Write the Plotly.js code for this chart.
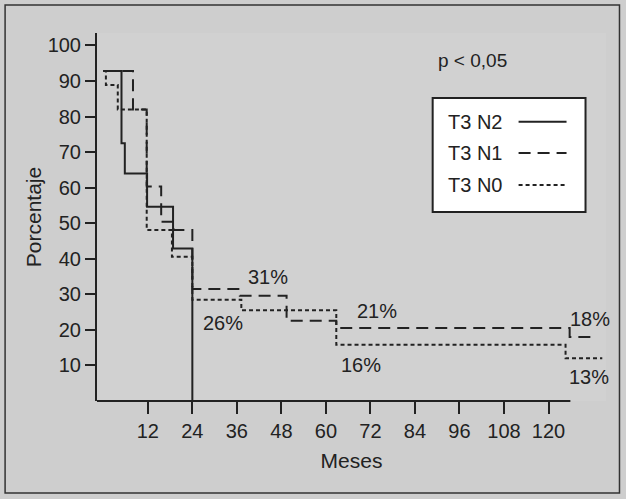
<!DOCTYPE html>
<html>
<head>
<meta charset="utf-8">
<script src="https://cdn.plot.ly/plotly-3.0.1.min.js"></script>
<style>
  html, body { margin: 0; padding: 0; background: #cecece; }
  #chart { width: 626px; height: 499px; }
</style>
</head>
<body>
<div id="chart"></div>
<script>
// Kaplan-Meier style survival curves (months, percent)
const seriesNames = ["T3 N2", "T3 N1", "T3 N0"];

const n2Months = [0, 4.9, 5.8, 11.8, 18.8, 24];
const n2Pct    = [92.8, 72.5, 64, 54.6, 42.9, 0];

const n1Months = [0, 8, 11.7, 15.6, 19, 24, 36.8, 49.4, 62.8, 125.7, 133];
const n1Pct    = [92.8, 82, 60.3, 50.4, 48.1, 31.5, 29.6, 22.6, 20.5, 18, 18];

const n0Months = [0, 0.7, 3.9, 11.7, 18.5, 24, 37.2, 62.8, 124.6, 134.5];
const n0Pct    = [92.8, 88.9, 82, 48.1, 40.6, 28.5, 25.5, 15.8, 12, 12];

const xTicks = [12, 24, 36, 48, 60, 72, 84, 96, 108, 120];
const yTicks = [10, 20, 30, 40, 50, 60, 70, 80, 90, 100];

const pctLabels = ["31%", "26%", "21%", "16%", "18%", "13%"];
const pctLabelX = [44.3, 32.2, 73.7, 69.4, 131.3, 131.0];
const pctLabelY = [34.9, 21.9, 25.3, 10.1, 23.1, 6.7];

const ink = "#222222";
const fontFam = "Liberation Sans, Arial, Helvetica, sans-serif";
const dashN1 = "12px,7px";
const dashN0 = "4px,3px";

const traces = [
  {x: n2Months, y: n2Pct, name: seriesNames[0], mode: "lines",
   line: {shape: "hv", color: ink, width: 2}},
  {x: n1Months, y: n1Pct, name: seriesNames[1], mode: "lines",
   line: {shape: "hv", color: ink, width: 2, dash: dashN1}},
  {x: n0Months, y: n0Pct, name: seriesNames[2], mode: "lines",
   line: {shape: "hv", color: ink, width: 2, dash: dashN0}}
];

// plot area in pixels: left 97, right 606.5, top 33, bottom 401
const L = 97, R = 606.5, T = 33, B = 401;
const px = p => (p - L) / (R - L);
const py = q => (B - q) / (B - T);

const annotations = pctLabels.map((t, i) => ({
  x: pctLabelX[i], y: pctLabelY[i], xref: "x", yref: "y",
  text: t, showarrow: false, font: {size: 20, color: ink, family: fontFam}
}));
annotations.push({x: 99.5, y: 95.9, xref: "x", yref: "y", text: "p &lt; 0,05",
  showarrow: false, font: {size: 19, color: ink, family: fontFam}});

const legRows = [121.7, 153, 185];
const legDash = ["solid", dashN1, dashN0];
const shapes = [
  // outer frame
  {type: "rect", xref: "paper", yref: "paper", x0: px(5), x1: px(620), y0: py(493), y1: py(5),
   line: {color: "#333", width: 1.5}, fillcolor: "rgba(0,0,0,0)", layer: "below"},
  // x axis line (shorter than data range)
  {type: "line", xref: "x", yref: "paper", x0: -1.7, x1: 125.9, y0: 0, y1: 0,
   line: {color: ink, width: 2}},
  // legend box
  {type: "rect", xref: "paper", yref: "paper", x0: px(433), x1: px(586), y0: py(212), y1: py(98),
   line: {color: ink, width: 2}, fillcolor: "#ffffff"}
];
seriesNames.forEach((n, i) => {
  annotations.push({xref: "paper", yref: "paper", x: px(446), y: py(legRows[i]),
    xanchor: "left", yanchor: "middle", text: n, showarrow: false,
    font: {size: 20, color: ink, family: fontFam}});
  shapes.push({type: "line", xref: "paper", yref: "paper", x0: px(519), x1: px(567),
    y0: py(legRows[i]), y1: py(legRows[i]), line: {color: ink, width: 2, dash: legDash[i]}});
});

const layout = {
  width: 626, height: 499,
  margin: {l: L, r: 626 - R, t: T, b: 499 - B, pad: 0},
  paper_bgcolor: "#cecece",
  plot_bgcolor: "#d1d1d1",
  showlegend: false,
  font: {family: fontFam, color: ink, size: 20},
  xaxis: {
    range: [-1.7, 135.5], tickvals: xTicks, ticktext: xTicks.map(String),
    ticks: "outside", ticklen: 12, tickwidth: 2, tickcolor: ink,
    showline: false, showgrid: false, zeroline: false,
    tickfont: {size: 20, color: ink, family: fontFam},
    title: {text: "Meses", font: {size: 21, color: ink, family: fontFam}, standoff: 12},
    automargin: false
  },
  yaxis: {
    range: [0, 103.5], tickvals: yTicks, ticktext: yTicks.map(String),
    ticks: "outside", ticklen: 10, tickwidth: 2, tickcolor: ink,
    showline: true, linewidth: 2, linecolor: ink,
    showgrid: false, zeroline: false,
    tickfont: {size: 20, color: ink, family: fontFam},
    title: {text: "Porcentaje", font: {size: 21, color: ink, family: fontFam}, standoff: 0},
    automargin: false
  },
  annotations: annotations,
  shapes: shapes
};

Plotly.newPlot("chart", traces, layout, {displayModeBar: false, staticPlot: true});
</script>
</body>
</html>
